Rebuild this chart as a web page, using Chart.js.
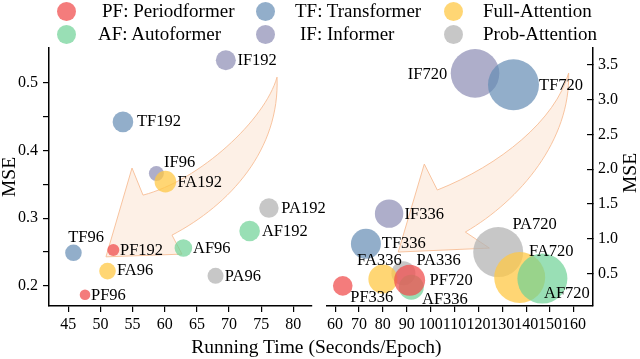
<!DOCTYPE html>
<html>
<head>
<meta charset="utf-8">
<script src="https://cdn.jsdelivr.net/npm/chart.js@4.4.1/dist/chart.umd.min.js"></script>
<style>
  html, body { margin: 0; padding: 0; background: #fff; }
  #wrap { position: relative; width: 640px; height: 359px; overflow: hidden; background: #fff;
          font-family: 'Liberation Serif', 'Times New Roman', serif; color: #000; }
  #wrap canvas { position: absolute; left: 0; top: 0; }
  .dot { position: absolute; width: 19px; height: 19px; border-radius: 50%; }
  .lbl { position: absolute; font-size: 19px; line-height: 19px; white-space: nowrap; }
  #xtitle { position: absolute; left: 0; width: 633px; top: 337px; text-align: center;
            font-size: 19.5px; line-height: 20px; }
</style>
</head>
<body>
<div id="wrap">
  <canvas id="leftChart" width="640" height="359"></canvas>
  <canvas id="rightChart" width="640" height="359"></canvas>
  <div id="legend"></div>
  <div id="xtitle">Running Time (Seconds/Epoch)</div>
</div>
<script>
const FONT = "'Liberation Serif', 'Times New Roman', serif";

// models and horizons (96, 192 in the left panel, 336, 720 in the right one)
const models = ["PF", "AF", "TF", "IF", "FA", "PA"];
const legendNames = ["PF: Periodformer", "AF: Autoformer", "TF: Transformer",
                     "IF: Informer", "Full-Attention", "Prob-Attention"];
const horizons = ["96", "192", "336", "720"];

// running time (seconds/epoch)
const pfTime = [47.6, 52.0, 63.2, 91.2];
const afTime = [62.9, 73.2, 91.9, 146.8];
const tfTime = [45.8, 53.5, 72.9, 134.7];
const ifTime = [58.7, 69.5, 82.6, 118.6];
const faTime = [51.1, 60.1, 80.0, 137.3];
const paTime = [67.9, 76.2, 88.6, 128.3];

// MSE
const pfMse = [0.187, 0.253, 0.32, 0.40];
const afMse = [0.256, 0.281, 0.30, 0.425];
const tfMse = [0.249, 0.442, 0.925, 3.215];
const ifMse = [0.366, 0.533, 1.36, 3.38];
const faMse = [0.222, 0.354, 0.418, 0.44];
const paMse = [0.215, 0.315, 0.50, 0.807];

// bubble size
const pfSize = [5.3, 6, 9.8, 15.5];
const afSize = [8.8, 10.3, 12.5, 25];
const tfSize = [8.3, 10.3, 15, 25.5];
const ifSize = [7.5, 10, 14.2, 24.3];
const faSize = [8.3, 10.8, 14.5, 25.5];
const paSize = [8, 9.7, 12, 25];

// axis ticks
const leftTimeTicks = [45, 50, 55, 60, 65, 70, 75, 80];
const leftMseTicks = [0.2, 0.25, 0.3, 0.35, 0.4, 0.45, 0.5];
const rightTimeTicks = [60, 70, 80, 90, 100, 110, 120, 130, 140, 150, 160];
const rightMseTicks = [0.5, 1.0, 1.5, 2.0, 2.5, 3.0, 3.5];

const times = [pfTime, afTime, tfTime, ifTime, faTime, paTime];
const mses = [pfMse, afMse, tfMse, ifMse, faMse, paMse];
const sizes = [pfSize, afSize, tfSize, ifSize, faSize, paSize];

const colors = ["rgba(240,80,80,0.75)", "rgba(110,210,150,0.7)", "rgba(100,140,180,0.7)",
                "rgba(140,140,180,0.7)", "rgba(255,200,70,0.75)", "rgba(180,180,180,0.75)"];
const drawOrder = [0, 1, 3, 4, 2, 5]; // lower = drawn on top

// label offset from bubble centre: [dx, dy, align]
const labelPlace = {
  PF96: [6, 0.7, "left"], PF192: [6.7, 0.7, "left"], PF336: [7.5, 11.9, "left"], PF720: [20, 0.7, "left"],
  AF96: [9.6, 0.7, "left"], AF192: [12.3, 0.7, "left"], AF336: [10.7, 12, "left"], AF720: [1.6, 14.8, "left"],
  TF96: [-5.3, -15, "left"], TF192: [14, 0, "left"], TF336: [15.9, -0.5, "left"], TF720: [25.6, 1.2, "left"],
  IF96: [7.6, -10.6, "left"], IF192: [11.6, 0, "left"], IF336: [15.5, 0.8, "left"], IF720: [-27.8, 1, "right"],
  FA96: [9.4, 0, "left"], FA192: [12, 1, "left"], FA336: [-25.8, -18, "left"], FA720: [9.3, -25.8, "left"],
  PA96: [9.3, 0.7, "left"], PA192: [12.4, 1, "left"], PA336: [13, -13, "left"], PA720: [14.2, -27, "left"]
};

// curved arrows, in data units: tail, left curve ctrl1, ctrl2, left join, left barb, tip, right barb, right join, right ctrl1, ctrl2
const arrowLeft = [[77.46, 0.508], [75.59, 0.445], [65.48, 0.356], [56.62, 0.334], [54.91, 0.374],
                   [50.86, 0.243], [62.68, 0.247], [61.13, 0.275], [70.15, 0.320], [77.92, 0.401]];
const arrowRight = [[157.8, 3.385], [152.3, 2.708], [129.2, 2.06], [102.8, 1.70], [97.35, 2.074],
                    [86.44, 0.807], [124.6, 0.864], [114.55, 1.095], [137.6, 1.556], [158.6, 2.42]];

Chart.defaults.font.family = FONT;
Chart.defaults.color = "#000";

const curvedArrow = {
  id: "curvedArrow",
  beforeDatasetsDraw(chart, args, opts) {
    const p = opts.points;
    if (!p) return;
    const ctx = chart.ctx;
    const xs = chart.scales.x, ys = chart.scales.y;
    const q = p.map(d => [xs.getPixelForValue(d[0]), ys.getPixelForValue(d[1])]);
    ctx.save();
    ctx.beginPath();
    ctx.moveTo(q[0][0], q[0][1]);
    ctx.bezierCurveTo(q[1][0], q[1][1], q[2][0], q[2][1], q[3][0], q[3][1]);
    ctx.lineTo(q[4][0], q[4][1]);
    ctx.lineTo(q[5][0], q[5][1]);
    ctx.lineTo(q[6][0], q[6][1]);
    ctx.lineTo(q[7][0], q[7][1]);
    ctx.bezierCurveTo(q[8][0], q[8][1], q[9][0], q[9][1], q[0][0], q[0][1]);
    ctx.closePath();
    ctx.fillStyle = "rgba(250,222,200,0.45)";
    ctx.fill();
    ctx.strokeStyle = "rgba(247,190,150,0.9)";
    ctx.lineWidth = 1;
    ctx.stroke();
    ctx.restore();
  }
};

const pointLabels = {
  id: "pointLabels",
  afterDatasetsDraw(chart) {
    const ctx = chart.ctx;
    ctx.save();
    ctx.font = "16.5px " + FONT;
    ctx.fillStyle = "#000";
    ctx.textBaseline = "middle";
    chart.data.datasets.forEach((ds, i) => {
      const meta = chart.getDatasetMeta(i);
      meta.data.forEach((el, j) => {
        const name = ds.names[j];
        const pl = labelPlace[name];
        ctx.textAlign = pl[2];
        ctx.fillText(name, el.x + pl[0], el.y + pl[1]);
      });
    });
    ctx.restore();
  }
};

const sideTitle = {
  id: "sideTitle",
  afterDraw(chart, args, opts) {
    if (!opts.text) return;
    const ctx = chart.ctx;
    ctx.save();
    ctx.translate(opts.x, (chart.chartArea.top + chart.chartArea.bottom) / 2 - 4);
    ctx.rotate(-Math.PI / 2);
    ctx.font = "19.5px " + FONT;
    ctx.fillStyle = "#000";
    ctx.textAlign = "center";
    ctx.textBaseline = "middle";
    ctx.fillText(opts.text, 0, 0);
    ctx.restore();
  }
};

function buildDatasets(from, to) {
  return models.map((m, i) => {
    const pts = [];
    const names = [];
    for (let k = from; k < to; k++) {
      pts.push({ x: times[i][k], y: mses[i][k], r: sizes[i][k] });
      names.push(m + horizons[k]);
    }
    return {
      label: legendNames[i],
      data: pts,
      names: names,
      backgroundColor: colors[i],
      borderWidth: 0,
      hoverRadius: 0,
      order: drawOrder[i],
      clip: false
    };
  });
}

const tickFont = { family: FONT, size: 16 };
const axisGrid = { drawOnChartArea: false, color: "#000", tickLength: 6, lineWidth: 1.2 };
const axisBorder = { color: "#000", width: 1.5 };

new Chart(document.getElementById("leftChart"), {
  type: "bubble",
  data: { datasets: buildDatasets(0, 2) },
  options: {
    responsive: false,
    animation: false,
    layout: { padding: { left: 0, top: 48, right: 328, bottom: 0 } },
    plugins: {
      legend: { display: false },
      tooltip: { enabled: false },
      curvedArrow: { points: arrowLeft }
    },
    scales: {
      x: {
        type: "linear", position: "bottom", min: 42, max: 82.9,
        afterBuildTicks: s => { s.ticks = leftTimeTicks.map(v => ({ value: v })); },
        afterFit: s => { s.height = 53; },
        ticks: { font: tickFont, color: "#000", padding: 3, autoSkip: false, maxRotation: 0 },
        grid: axisGrid, border: axisBorder
      },
      y: {
        type: "linear", position: "left", min: 0.1705, max: 0.551,
        afterBuildTicks: s => { s.ticks = leftMseTicks.map(v => ({ value: v })); },
        afterFit: s => { s.width = 49; },
        ticks: {
          font: tickFont, color: "#000", padding: 5,
          callback: v => (Math.round(v * 100) % 10 === 0 ? v.toFixed(1) : "")
        },
        grid: axisGrid, border: axisBorder,
        title: { display: true, text: "MSE", font: { size: 19.5, lineHeight: 1 }, padding: 0 }
      }
    }
  },
  plugins: [curvedArrow, pointLabels]
});

new Chart(document.getElementById("rightChart"), {
  type: "bubble",
  data: { datasets: buildDatasets(2, 4) },
  options: {
    responsive: false,
    animation: false,
    layout: { padding: { left: 327, top: 48, right: 0, bottom: 0 } },
    plugins: {
      legend: { display: false },
      tooltip: { enabled: false },
      curvedArrow: { points: arrowRight },
      sideTitle: { text: "MSE", x: 631 }
    },
    scales: {
      x: {
        type: "linear", position: "bottom", min: 56.6, max: 168,
        afterBuildTicks: s => { s.ticks = rightTimeTicks.map(v => ({ value: v })); },
        afterFit: s => { s.height = 53; },
        ticks: { font: tickFont, color: "#000", padding: 3, autoSkip: false, maxRotation: 0 },
        grid: axisGrid, border: axisBorder
      },
      y: {
        type: "linear", position: "right", min: 0.03, max: 3.745,
        afterBuildTicks: s => { s.ticks = rightMseTicks.map(v => ({ value: v })); },
        afterFit: s => { s.width = 47; },
        ticks: { font: tickFont, color: "#000", padding: 11, callback: v => v.toFixed(1) },
        grid: { drawOnChartArea: false, color: "#000", tickLength: -6, lineWidth: 1.2 },
        border: axisBorder
      }
    }
  },
  plugins: [curvedArrow, pointLabels, sideTitle]
});

// legend: three columns, two rows
const legendCols = [66, 66, 265, 265, 453, 453];
const legendRows = [11, 34.5, 11, 34.5, 11, 34.5];
const legendText = [102, 98, 295, 300, 483, 483];
const legend = document.getElementById("legend");
legendNames.forEach((name, i) => {
  const dot = document.createElement("div");
  dot.className = "dot";
  dot.style.background = colors[i];
  dot.style.left = (legendCols[i] - 9.5) + "px";
  dot.style.top = (legendRows[i] - 9.5) + "px";
  legend.appendChild(dot);
  const t = document.createElement("div");
  t.className = "lbl";
  t.textContent = name;
  t.style.left = legendText[i] + "px";
  t.style.top = (legendRows[i] - 10.5) + "px";
  legend.appendChild(t);
});
</script>
</body>
</html>
